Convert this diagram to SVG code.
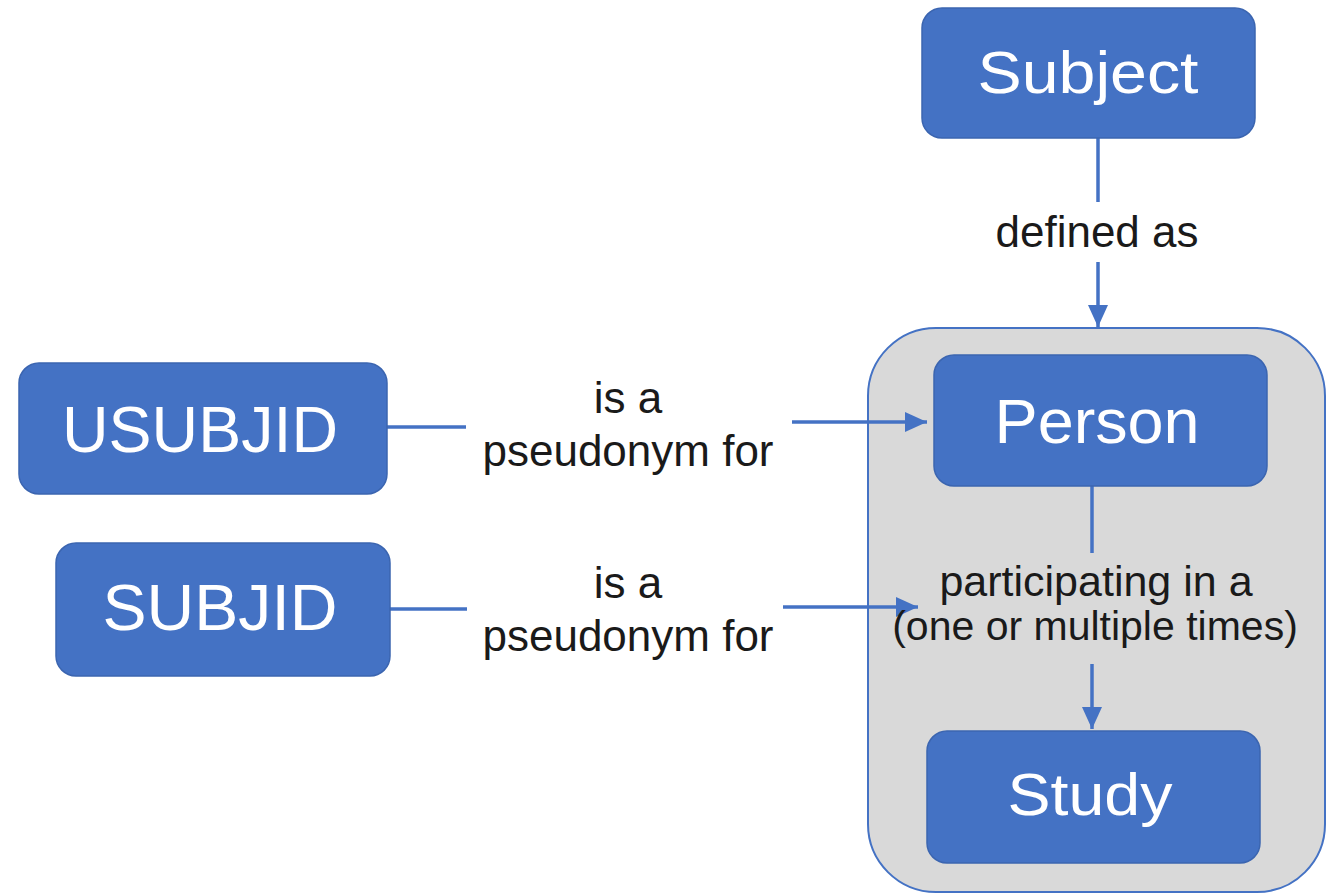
<svg xmlns="http://www.w3.org/2000/svg" width="1337" height="894" viewBox="0 0 1337 894">
  <style>
    .node { fill: #4472C4; stroke: #3B65B0; stroke-width: 1.5; }
    .ntext { fill: #FFFFFF; font-family: "Liberation Sans", Arial, sans-serif; text-anchor: middle; }
    .label { fill: #1A1A1A; font-family: "Liberation Sans", Arial, sans-serif; font-size: 44px; text-anchor: middle; }
    .conn { stroke: #4472C4; stroke-width: 3.5; fill: none; }
    .arrow { marker-end: url(#ah); }
  </style>
  <defs>
    <marker id="ah" markerUnits="userSpaceOnUse" markerWidth="22" markerHeight="20" viewBox="0 0 22 20" refX="22" refY="10" orient="auto">
      <path d="M0,0 L22,10 L0,20 z" fill="#4472C4"/>
    </marker>
  </defs>
  <rect width="1337" height="894" fill="#FFFFFF"/>

  <g id="container">
    <rect x="868" y="328" width="457" height="564" rx="68" ry="68" fill="#D9D9D9" stroke="#4472C4" stroke-width="2"/>
  </g>

  <g id="connectors">
    <line class="conn" x1="1098" y1="137" x2="1098" y2="202"/>
    <line class="conn arrow" x1="1098" y1="262" x2="1098" y2="327"/>
    <line class="conn" x1="387" y1="427" x2="466" y2="427"/>
    <line class="conn arrow" x1="792" y1="422" x2="927" y2="422"/>
    <line class="conn" x1="390" y1="609" x2="467" y2="609"/>
    <line class="conn arrow" x1="783" y1="607" x2="918" y2="607"/>
    <line class="conn" x1="1092" y1="486" x2="1092" y2="553"/>
    <line class="conn arrow" x1="1092" y1="664" x2="1092" y2="729"/>
    <text class="label" x="1097" y="247">defined as</text>
    <text class="label" x="628" y="413">is a</text>
    <text class="label" x="628" y="466">pseudonym for</text>
    <text class="label" x="628" y="598">is a</text>
    <text class="label" x="628" y="651">pseudonym for</text>
    <text class="label" x="1096" y="596" style="font-size:43px">participating in a</text>
    <text class="label" x="1095" y="640" style="font-size:41px">(one or multiple times)</text>
  </g>

  <g id="subject">
    <rect class="node" x="922" y="8" width="333" height="130" rx="20" ry="20"/>
    <text class="ntext" x="1088" y="93" font-size="60" textLength="221" lengthAdjust="spacingAndGlyphs">Subject</text>
  </g>
  <g id="usubjid">
    <rect class="node" x="19" y="363" width="368" height="131" rx="20" ry="20"/>
    <text class="ntext" x="200" y="452" font-size="65" textLength="276" lengthAdjust="spacingAndGlyphs">USUBJID</text>
  </g>
  <g id="subjid">
    <rect class="node" x="56" y="543" width="334" height="133" rx="20" ry="20"/>
    <text class="ntext" x="220" y="630" font-size="65" textLength="235" lengthAdjust="spacingAndGlyphs">SUBJID</text>
  </g>
  <g id="person">
    <rect class="node" x="934" y="355" width="333" height="131" rx="20" ry="20"/>
    <text class="ntext" x="1097" y="443" font-size="63" textLength="205" lengthAdjust="spacingAndGlyphs">Person</text>
  </g>
  <g id="study">
    <rect class="node" x="927" y="731" width="333" height="132" rx="20" ry="20"/>
    <text class="ntext" x="1090" y="815" font-size="59" textLength="165" lengthAdjust="spacingAndGlyphs">Study</text>
  </g>
</svg>
